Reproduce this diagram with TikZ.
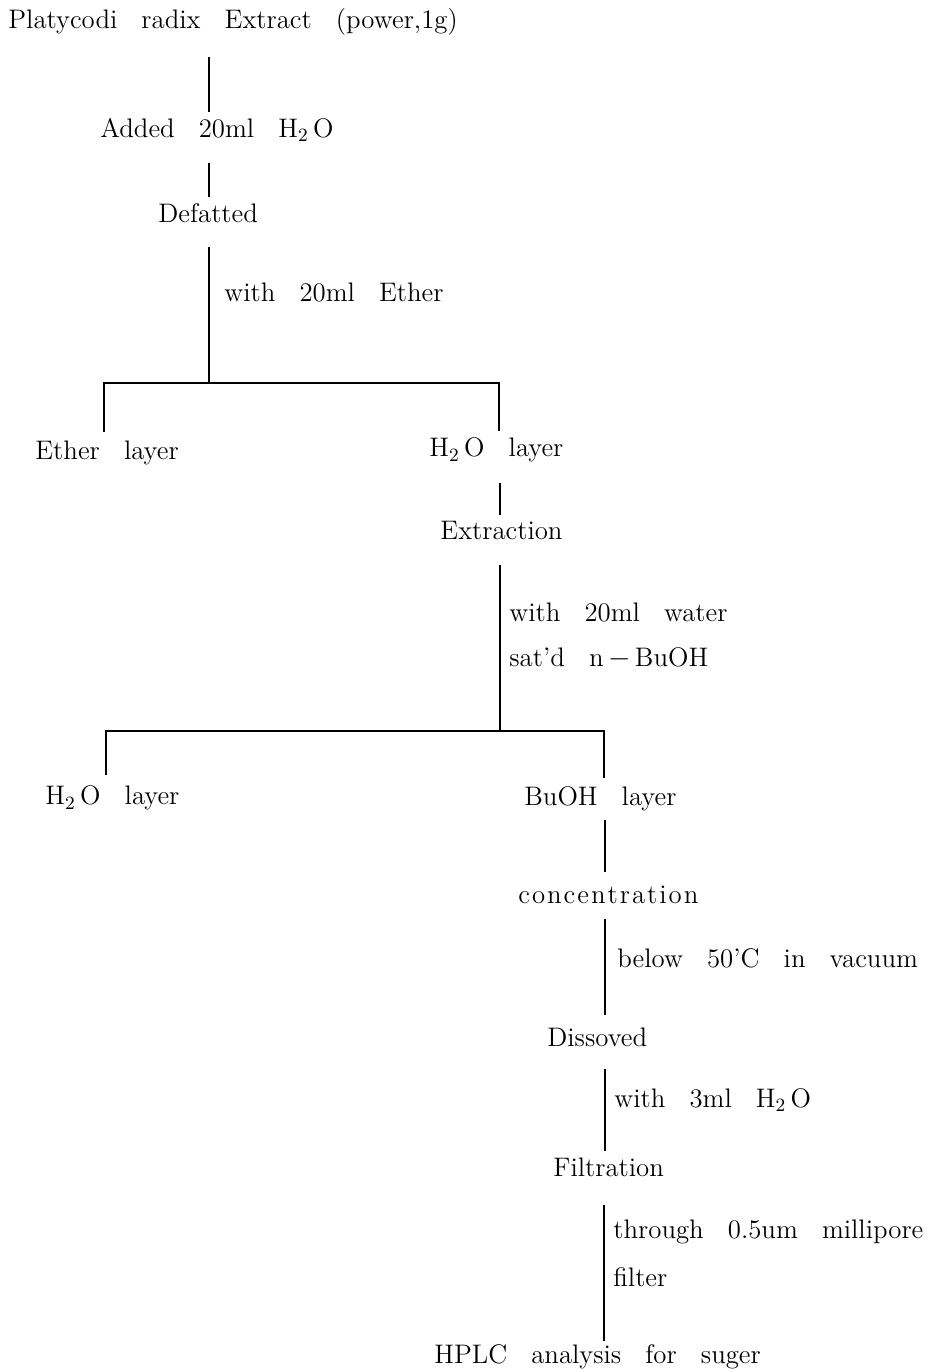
\documentclass[tikz,border=0pt]{standalone}
\usepackage{fontspec}
\newcommand\widewords{\spaceskip=0.9em\relax}
\newcommand\ls[1]{#1\kern1pt\relax}
\begin{document}
\begin{tikzpicture}[x=0.5pt,y=-0.5pt,
  lbl/.style={anchor=west, inner sep=0pt, font=\fontsize{13.4}{15}\selectfont, execute at begin node=\widewords},
  conn/.style={line width=1pt}]
\useasboundingbox (0,0) rectangle (930,1372);
% text nodes
\node[lbl] (title) at (8,22) {Platycodi radix Extract (power,1g)};
\node[lbl] (added) at (100,130) {Added 20ml H\textsubscript{2}\,O};
\node[lbl] (defat) at (158,213) {Defatted};
\node[lbl] (w1) at (224,292) {with 20ml Ether};
\node[lbl] (ether) at (35,453) {Ether layer};
\node[lbl] (hoa) at (429,450) {H\textsubscript{2}\,O layer};
\node[lbl] (extr) at (440,530) {Extraction};
\node[lbl] (w2a) at (509,612) {with 20ml water};
\node[lbl] (w2b) at (509,658) {sat’d n\,$-$\,BuOH};
\node[lbl] (hob) at (45,798) {H\textsubscript{2}\,O layer};
\node[lbl] (buoh) at (524,799) {BuOH layer};
\node[lbl] (conc) at (518,895) {\ls c\ls o\ls n\ls c\ls e\ls n\ls t\ls r\ls a\ls t\ls i\ls o{}n};
\node[lbl] (below) at (617,958) {below 50’C in vacuum};
\node[lbl] (diss) at (547,1037) {Dissoved};
\node[lbl] (w3) at (614,1100) {with 3ml H\textsubscript{2}\,O};
\node[lbl] (filt) at (553,1167) {Filtration};
\node[lbl] (thr) at (613,1232) {through 0.5um millipore};
\node[lbl] (filter) at (613,1277) {filter};
\node[lbl] (hplc) at (434,1357) {HPLC analysis for suger};
% connector end points
\coordinate (a1) at (209,57);  \coordinate (a2) at (209,112);
\coordinate (b1) at (209,163); \coordinate (b2) at (209,197);
\coordinate (c1) at (209,247); \coordinate (c2) at (209,383);
\coordinate (cl) at (104,432); \coordinate (cr) at (499,431);
\coordinate (d1) at (500,483); \coordinate (d2) at (500,515);
\coordinate (e1) at (500,565); \coordinate (e2) at (500,731);
\coordinate (el) at (106,775); \coordinate (er) at (604,778);
\coordinate (f1) at (605,820); \coordinate (f2) at (605,872);
\coordinate (g1) at (605,919); \coordinate (g2) at (605,1015);
\coordinate (h1) at (605,1069); \coordinate (h2) at (605,1151);
\coordinate (i1) at (604,1205); \coordinate (i2) at (604,1341);
% connectors
\draw[conn] (a1) -- (a2);
\draw[conn] (b1) -- (b2);
\draw[conn] (c1) -- (c2);
\draw[conn] (cl) |- (c2) -| (cr);
\draw[conn] (d1) -- (d2);
\draw[conn] (e1) -- (e2);
\draw[conn] (el) |- (e2) -| (er);
\draw[conn] (f1) -- (f2);
\draw[conn] (g1) -- (g2);
\draw[conn] (h1) -- (h2);
\draw[conn] (i1) -- (i2);
\end{tikzpicture}
\end{document}
